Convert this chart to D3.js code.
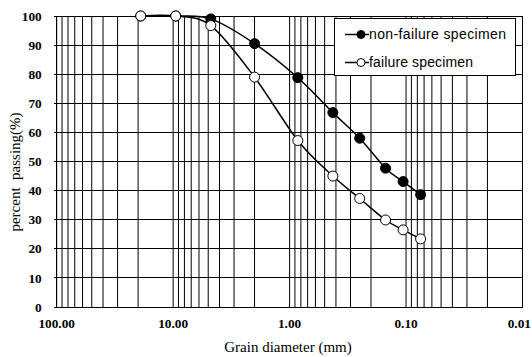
<!DOCTYPE html>
<html>
<head>
<meta charset="utf-8">
<script src="https://cdn.jsdelivr.net/npm/d3@7"></script>
<style>
  html, body { margin: 0; padding: 0; background: #fff; }
  svg { display: block; }
</style>
</head>
<body>
<div id="chart"></div>
<script>
// sieve sizes (mm) and percent passing for both specimens
var sieveSizes = [19, 9.5, 4.75, 2.0, 0.85, 0.425, 0.25, 0.15, 0.106, 0.075];
var nonFailure = [100, 100, 99.0, 90.5, 78.8, 66.8, 58.0, 47.7, 43.1, 38.6];
var failure = [100, 100, 96.7, 79.0, 57.2, 45.0, 37.3, 29.9, 26.5, 23.4];
var xTickValues = [100, 10, 1, 0.1, 0.01];
var xTickLabels = ["100.00", "10.00", "1.00", "0.10", "0.01"];
var yTickValues = [0, 10, 20, 30, 40, 50, 60, 70, 80, 90, 100];
var seriesNames = ["non-failure specimen", "failure specimen"];

var width = 532, height = 357;
var plot = {left: 56.7, right: 522.5, top: 16, bottom: 307};

var x = d3.scaleLog().domain([100, 0.01]).range([plot.left, plot.right]),
	y = d3.scaleLinear().domain([0, 100]).range([plot.bottom, plot.top]);

var svg = d3.select("#chart").append("svg")
	.attr("width", width)
	.attr("height", height);

// vertical grid: every 1..9 multiple in each decade
svg.append("g")
	.selectAll("line")
	.data(x.ticks())
  .enter().append("line")
	.attr("x1", function(d) { return x(d); })
	.attr("x2", function(d) { return x(d); })
	.attr("y1", plot.top)
	.attr("y2", plot.bottom)
	.attr("stroke", "#000")
	.attr("stroke-width", 1);

// horizontal grid
svg.append("g")
	.selectAll("line")
	.data(yTickValues)
  .enter().append("line")
	.attr("x1", plot.left - 3)
	.attr("x2", plot.right)
	.attr("y1", function(d) { return y(d); })
	.attr("y2", function(d) { return y(d); })
	.attr("stroke", "#000")
	.attr("shape-rendering", "crispEdges");

// plot border
svg.append("rect")
	.attr("x", plot.left)
	.attr("y", plot.top)
	.attr("width", plot.right - plot.left)
	.attr("height", plot.bottom - plot.top)
	.attr("fill", "none")
	.attr("stroke", "#000")
	.attr("shape-rendering", "crispEdges");

// y tick labels
svg.append("g")
	.selectAll("text")
	.data(yTickValues)
  .enter().append("text")
	.attr("x", plot.left - 15)
	.attr("y", function(d) { return y(d); })
	.attr("dy", "0.35em")
	.attr("text-anchor", "end")
	.style("font", "bold 13.3px 'Liberation Serif', serif")
	.text(function(d) { return d; });

// x tick labels (last one kept inside the page)
svg.append("g")
	.selectAll("text")
	.data(xTickValues)
  .enter().append("text")
	.attr("x", function(d, i) { return i == xTickValues.length - 1 ? width - 1 : x(d); })
	.attr("y", 323)
	.attr("dy", "0.35em")
	.attr("text-anchor", function(d, i) { return i == xTickValues.length - 1 ? "end" : "middle"; })
	.style("font", "bold 13.3px 'Liberation Serif', serif")
	.text(function(d, i) { return xTickLabels[i]; });

// axis titles
svg.append("text")
	.attr("transform", "translate(20,172) rotate(-90)")
	.attr("text-anchor", "middle")
	.style("font", "15px 'Liberation Serif', serif")
	.style("white-space", "pre")
	.text("percent  passing(%)");

svg.append("text")
	.attr("x", 288)
	.attr("y", 352)
	.attr("text-anchor", "middle")
	.style("font", "15px 'Liberation Serif', serif")
	.text("Grain diameter (mm)");

var line = d3.line()
	.x(function(d) { return x(d[0]); })
	.y(function(d) { return y(d[1]); })
	.curve(d3.curveCardinal.tension(0));

var series = [
	{name: seriesNames[0], values: nonFailure, fill: "#000", textWidth: 137},
	{name: seriesNames[1], values: failure, fill: "#fff", textWidth: 104}
];

series.forEach(function(s) {
	var pts = sieveSizes.map(function(d, i) { return [d, s.values[i]]; });
	var g = svg.append("g");
	g.append("path")
		.attr("d", line(pts))
		.attr("fill", "none")
		.attr("stroke", "#000")
		.attr("stroke-width", 1.5);
	g.selectAll("circle")
		.data(pts)
	  .enter().append("circle")
		.attr("cx", function(d) { return x(d[0]); })
		.attr("cy", function(d) { return y(d[1]); })
		.attr("r", 5)
		.attr("fill", s.fill)
		.attr("stroke", "#000")
		.attr("stroke-width", 1);
});

// legend
var legend = svg.append("g");
legend.append("rect")
	.attr("x", 334.5)
	.attr("y", 18.5)
	.attr("width", 181)
	.attr("height", 57)
	.attr("fill", "#fff")
	.attr("stroke", "#000");

series.forEach(function(s, i) {
	var ly = 34.5 + i * 28;
	legend.append("line")
		.attr("x1", 345)
		.attr("x2", 369)
		.attr("y1", ly)
		.attr("y2", ly)
		.attr("stroke", "#000")
		.attr("stroke-width", 1.5);
	legend.append("circle")
		.attr("cx", 361)
		.attr("cy", ly)
		.attr("r", 4)
		.attr("fill", s.fill)
		.attr("stroke", "#000");
	legend.append("text")
		.attr("x", 369)
		.attr("y", ly)
		.attr("dy", "0.35em")
		.attr("textLength", s.textWidth)
		.attr("lengthAdjust", "spacing")
		.style("font", "14px 'Liberation Sans', sans-serif")
		.text(s.name);
});
</script>
</body>
</html>
